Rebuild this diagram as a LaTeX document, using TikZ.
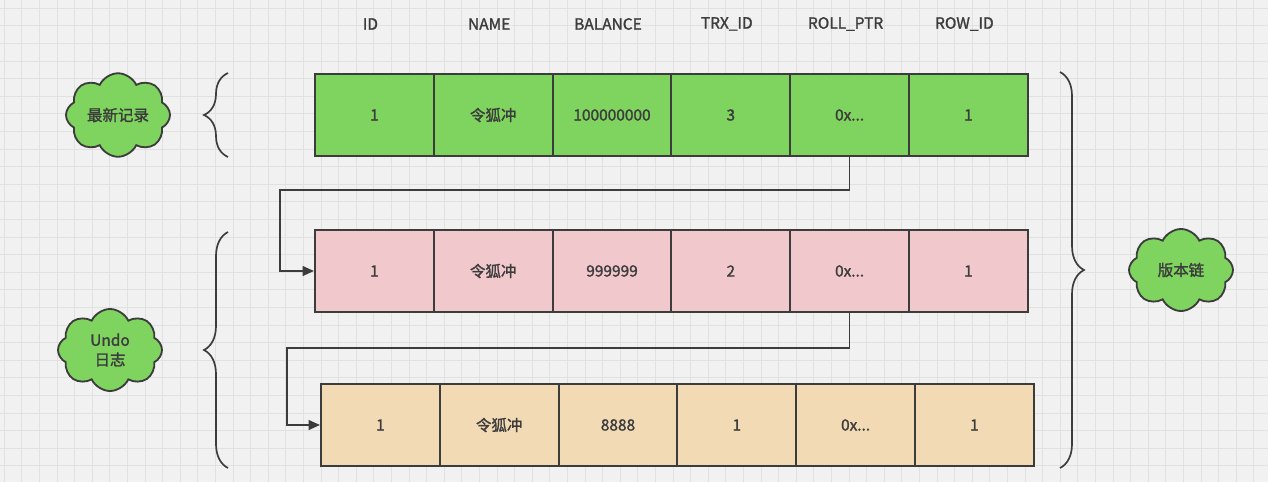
\documentclass[tikz,border=0pt]{standalone}
\usepackage{fontspec}
\setmainfont{Noto Sans CJK SC}[FakeBold=1.5]
\usetikzlibrary{shapes, shapes.symbols, arrows.meta, positioning, decorations.pathreplacing}
\definecolor{bggray}{HTML}{F1F1F1}
\definecolor{gridgray}{HTML}{E1E1E1}
\definecolor{newgreen}{HTML}{7FD35F}
\definecolor{undopink}{HTML}{F1C9CD}
\definecolor{undotan}{HTML}{F2DAB5}
\definecolor{inkgray}{HTML}{3C3C3C}
\newcommand{\ptrval}{0x...}

\begin{document}
\begin{tikzpicture}[x=0.025cm, y=-0.025cm,
            cell/.style={draw=inkgray, line width=1.5pt, rectangle, minimum width=2.97cm, minimum height=2.05cm, inner sep=0pt, font=\fontsize{11}{13}\selectfont, text=inkgray},
            head/.style={font=\fontsize{11}{13}\selectfont, text=inkgray},
            tag/.style={cloud, cloud puffs=8, cloud puff arc=130, aspect=1.3, draw=inkgray, line width=1.3pt, fill=newgreen, minimum width=2.6cm, minimum height=2.05cm, inner sep=0pt, align=center, font=\fontsize{11}{14}\selectfont, text=inkgray},
            ptr/.style={-{Triangle[length=8pt, width=7pt]}, draw=inkgray, line width=1pt},
            brace/.style={decorate, decoration={brace, amplitude=0.6cm}, draw=inkgray, line width=1.2pt}]

            % grid paper
            \useasboundingbox (0,0) rectangle (1268,482);
            \fill[bggray] (0,0) rectangle (1268,482);
            \foreach \gx in {4,21.6,...,1268} \draw[gridgray, line width=0.4pt] (\gx,0) -- (\gx,482);
            \foreach \gy in {8,25.6,...,482} \draw[gridgray, line width=0.4pt] (0,\gy) -- (1268,\gy);

            % column titles
            \foreach \col [count=\i] in {ID,NAME,BALANCE,TRX\_ID,ROLL\_PTR,ROW\_ID}
                \node[head] (h\i) at ({315+118.8*(\i-0.5)-4},24) {\col};

            % records
            \foreach \val [count=\i] in {1,令狐冲,100000000,3,\ptrval,1}
                \node[cell, fill=newgreen] (new\i) at ({315+118.8*(\i-0.5)},115) {\val};
            \foreach \val [count=\i] in {1,令狐冲,999999,2,\ptrval,1}
                \node[cell, fill=undopink] (prev\i) at ({315+118.8*(\i-0.5)},271) {\val};
            \foreach \val [count=\i] in {1,令狐冲,8888,1,\ptrval,1}
                \node[cell, fill=undotan] (orig\i) at ({321+118.8*(\i-0.5)},425) {\val};

            % roll pointers
            \coordinate (bend1) at (280,190);
            \coordinate (bend2) at (287,348);
            \draw[ptr] (new5.south) |- (bend1) |- (prev1.west);
            \draw[ptr] (prev5.south) |- (bend2) |- (orig1.west);

            % braces and labels
            \coordinate (b1top) at (228,73);
            \coordinate (b1bot) at (228,157);
            \coordinate (b2top) at (228,232);
            \coordinate (b2bot) at (228,468);
            \coordinate (b3top) at (1060,72);
            \coordinate (b3bot) at (1060,468);
            \draw[brace] (b1bot) -- (b1top);
            \draw[brace] (b2bot) -- (b2top);
            \draw[brace] (b3top) -- (b3bot);

            \node[tag] (latest) at (118,115) {最新记录};
            \node[tag] (undo) at (110,350) {Undo\\日志};
            \node[tag] (chain) at (1181,270) {版本链};
        \end{tikzpicture}
\end{document}
